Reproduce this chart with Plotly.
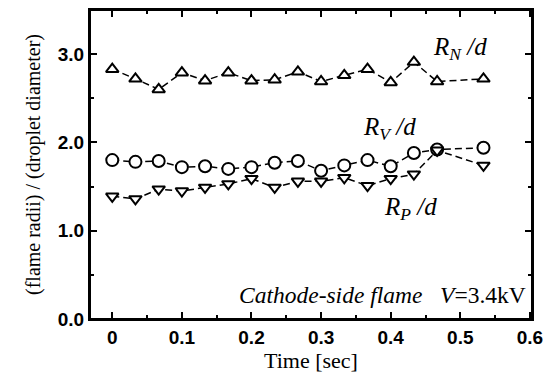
import plotly.graph_objects as go

time = [0, 0.0333, 0.0667, 0.1, 0.1333, 0.1667, 0.2, 0.2333, 0.2667, 0.3,
        0.3333, 0.3667, 0.4, 0.4333, 0.4667, 0.5333]
rn_d = [2.83, 2.72, 2.60, 2.79, 2.70, 2.79, 2.70, 2.71, 2.80, 2.69,
        2.76, 2.83, 2.68, 2.91, 2.69, 2.72]
rv_d = [1.80, 1.78, 1.79, 1.72, 1.73, 1.70, 1.72, 1.77, 1.79, 1.68,
        1.74, 1.80, 1.73, 1.88, 1.92, 1.94]
rp_d = [1.39, 1.36, 1.47, 1.45, 1.49, 1.53, 1.59, 1.49, 1.56, 1.56,
        1.60, 1.51, 1.59, 1.64, 1.91, 1.74]

x_ticks = [0, 0.1, 0.2, 0.3, 0.4, 0.5, 0.6]
y_ticks = [0, 1, 2, 3]
x_range = [-0.032, 0.603]
y_range = [0, 3.5]

serif = "Liberation Serif, Times New Roman, serif"
sans = "Liberation Sans, Arial, sans-serif"

fig = go.Figure()

def add(y, sym, size):
    fig.add_trace(go.Scatter(
        x=time, y=y, mode="lines+markers",
        line=dict(color="black", width=1.5, dash="7px,4px"),
        marker=dict(symbol=sym, size=size, color="white",
                    line=dict(color="black", width=2)),
        showlegend=False, hoverinfo="skip"))

add(rn_d, "triangle-up", 11)
add(rv_d, "circle", 12)
add(rp_d, "triangle-down", 11)

axis_common = dict(
    showgrid=False, zeroline=False, showline=True, linecolor="black",
    linewidth=2, mirror="allticks", ticks="inside", ticklen=7,
    tickwidth=1.5, tickcolor="black", automargin=False,
    tickfont=dict(family=sans, size=19, color="black", weight="bold"),
)

fig.update_layout(
    xaxis=dict(**axis_common, range=x_range, tickvals=x_ticks,
               ticktext=[f"{v:g}" for v in x_ticks],
               minor=dict(dtick=0.05, ticks="inside", ticklen=4,
                          tickwidth=1.5, tickcolor="black"),
               title=dict(text="Time [sec]",
                          font=dict(family=serif, size=22, color="black"),
                          standoff=6)),
    yaxis=dict(**axis_common, range=y_range, tickvals=y_ticks,
               ticktext=[f"{v:.1f}" for v in y_ticks],
               minor=dict(dtick=0.5, ticks="inside", ticklen=4,
                          tickwidth=1.5, tickcolor="black"),
               title=dict(text="(flame radii) / (droplet diameter)",
                          font=dict(family=serif, size=20, color="black"),
                          standoff=12)),
)

# plot frame
fig.add_shape(type="rect", xref="paper", yref="paper", x0=0, x1=1,
              y0=0, y1=1, line=dict(color="black", width=2), layer="above")

def lab(text, x, y, anchor="center", size=25):
    fig.add_annotation(x=x, y=y, text=text, showarrow=False, xanchor=anchor,
                       yanchor="middle",
                       font=dict(family=serif, size=size, color="black"))

lab("<i>R</i><sub><i>N</i></sub><i> /d</i>", 0.5, 3.06)
lab("<i>R</i><sub><i>V</i></sub><i> /d</i>", 0.398, 2.16)
lab("<i>R</i><sub><i>P</i></sub><i> /d</i>", 0.428, 1.25)
lab("<i>Cathode-side flame</i>   <i>V</i>=3.4kV", 0.597, 0.27, anchor="right", size=23.5)

fig.update_layout(
    width=553, height=381,
    margin=dict(l=90, r=21, t=10, b=62),
    plot_bgcolor="white", paper_bgcolor="white",
)

fig.write_html("out.html", config={"displayModeBar": False},
               post_script="document.body.style.margin='0';document.body.style.overflow='hidden';")
